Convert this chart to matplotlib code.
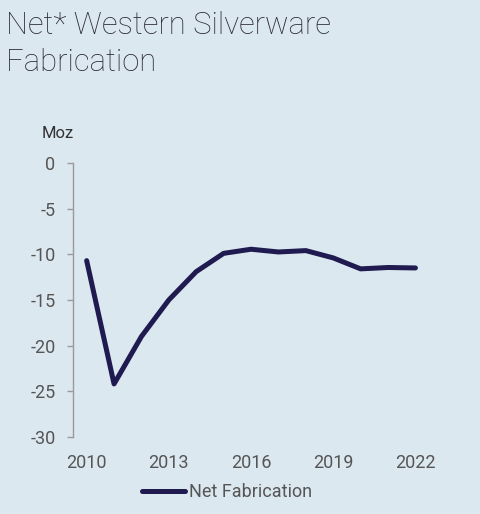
import matplotlib
matplotlib.use("Agg")
import matplotlib.pyplot as plt

years = [2010, 2011, 2012, 2013, 2014, 2015, 2016, 2017, 2018, 2019, 2020, 2021, 2022]
net_fabrication = [-10.7, -24.2, -19.0, -15.0, -11.9, -9.9, -9.45, -9.75, -9.6, -10.4, -11.6, -11.45, -11.5]
x_ticks = [2010, 2013, 2016, 2019, 2022]
y_ticks = [0, -5, -10, -15, -20, -25, -30]
title_lines = ["Net* Western Silverware", "Fabrication"]

bg = "#dce8f0"
plt.rcParams['font.family'] = ['Roboto', 'DejaVu Sans']
plt.rcParams['axes.unicode_minus'] = False

fig = plt.figure(figsize=(4.8, 5.14), dpi=100, facecolor=bg)
ax = fig.add_axes([0.152, 0.150, 0.742, 0.533], facecolor=bg)

ax.plot(years, net_fabrication, color="#1f1a4f", linewidth=3.6,
        solid_capstyle="round", solid_joinstyle="round", label="Net Fabrication")

ax.set_xlim(2009.5, 2022.5)
ax.set_ylim(-30, 0)
ax.set_xticks(x_ticks)
ax.set_yticks(y_ticks)

for s in ["top", "right", "bottom"]:
    ax.spines[s].set_visible(False)
ax.spines["left"].set_color("#9a9a9a")
ax.spines["left"].set_linewidth(1)
ax.tick_params(axis="y", length=4, width=1, color="#9a9a9a", pad=8.5,
               labelsize=13, labelcolor="#555555")
ax.tick_params(axis="x", length=0, pad=12, labelsize=13, labelcolor="#555555")

fig.text(42 / 480, 1 - 133 / 514, "Moz", fontsize=12, color="#333333", va="center", ha="left")

# title, one text per line so each baseline sits where the reference has it
for line, base in zip(title_lines, [34, 71]):
    fig.text(6 / 480, 1 - base / 514, line, fontsize=22.3, fontweight="light",
             color="#2a2a34", ha="left", va="baseline")

leg = fig.legend(loc="center", bbox_to_anchor=(227 / 480, 1 - 492 / 514), frameon=False,
                 fontsize=13, handlelength=2.4, handletextpad=0.2, labelcolor="#555555")

fig.savefig("out.png", dpi=100, facecolor=bg)
